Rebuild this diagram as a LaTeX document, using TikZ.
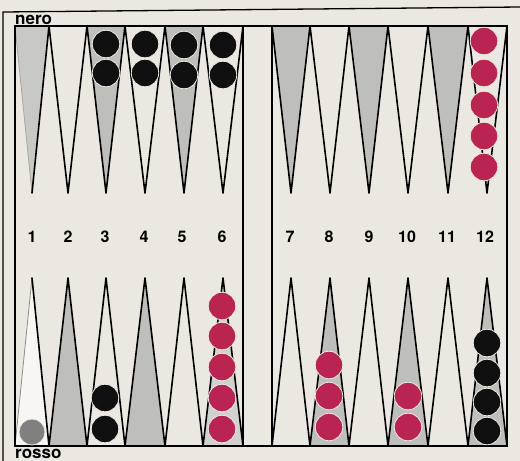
\documentclass[tikz,border=0pt]{standalone}
\usepackage{fontspec}
\setmainfont{TeX Gyre Heros}
\definecolor{paper}{RGB}{234,232,224}
\definecolor{pointgray}{RGB}{190,190,186}
\definecolor{lightpt}{RGB}{210,210,205}
\definecolor{fadedpt}{RGB}{200,200,196}
\definecolor{checkred}{RGB}{185,36,80}
\definecolor{checkblack}{RGB}{16,16,16}
\begin{document}
\begin{tikzpicture}[x=1pt,y=-1pt,
  edge/.style={draw=black,line width=1.6pt,line join=round,line cap=round},
  frameline/.style={draw=black,line width=1.3pt},
  num/.style={font=\fontsize{16}{16}\selectfont\bfseries,inner sep=0pt},
  lbl/.style={font=\fontsize{17}{17}\selectfont\bfseries,inner sep=0pt},
  redck/.style={circle,fill=checkred,draw=paper,line width=0.8pt,minimum size=27.5pt,inner sep=0pt},
  blackck/.style={circle,fill=checkblack,draw=paper,line width=0.8pt,minimum size=27.5pt,inner sep=0pt},
  greyck/.style={circle,fill=black!50,draw=paper,line width=0.8pt,minimum size=26pt,inner sep=0pt}]
\useasboundingbox (0,0) rectangle (520,461);
\fill[paper] (0,0) rectangle (520,461);
% outer frame
\draw[frameline] (3,461) -- (3,12) -- (520,7);
% top points (y base 26, tip 193)
\fill[fadedpt] (15,26) -- (32,193) -- (49,26) -- cycle;
\draw[black!35,line width=0.8pt] (15,26) -- (32,193);
\draw[edge] (32,193) -- (49,26);
\foreach \xl/\xt/\xr/\c in {49/68/87/paper,87/106/125/pointgray,125/145/165/paper,165/184/203/pointgray,203/223/243/paper,
  272/291/310/pointgray,310/330/349/paper,349/369/388/pointgray,388/408/428/paper,428/448/468/pointgray,468/487/507/paper}{
  \fill[\c] (\xl,26) -- (\xt,193) -- (\xr,26) -- cycle;
  \draw[edge] (\xl,26) -- (\xt,193) -- (\xr,26);
}
% bottom points (y base 446, tip 278)
\fill[white!60!paper] (15,446) -- (32,278) -- (49,446) -- cycle;
\draw[black!45,line width=0.8pt] (15,446) -- (32,278);
\draw[edge] (32,278) -- (49,446);
\foreach \xl/\xt/\xr/\c in {49/68/87/pointgray,87/106/125/paper,125/145/165/pointgray,165/184/203/paper,203/223/243/lightpt,
  272/291/310/paper,310/330/349/pointgray,349/369/388/paper,388/408/428/pointgray,428/448/468/paper,468/487/507/pointgray}{
  \fill[\c] (\xl,446) -- (\xt,278) -- (\xr,446) -- cycle;
  \draw[edge] (\xl,446) -- (\xt,278) -- (\xr,446);
}
% inner frame and bar
\draw[frameline] (15,26) rectangle (507,446);
\draw[frameline] (243,26) -- (243,446);
\draw[frameline] (272,26) -- (272,446);
% numbers
\foreach \x/\n in {32/1,68/2,105/3,144/4,182/5,222/6,290/7,329/8,369/9,407/10,447/11,485/12}{
  \node[num] (n\n) at (\x,237) {\n};
}
% black checkers, top
\foreach \x/\y [count=\i] in {106/44,106/73,145/44,145/73,184/45,184/75,223/45,223/75}{
  \node[blackck] (bt\i) at (\x,\y) {};
}
% red checkers, top point 12
\foreach \y [count=\i] in {41,73,105,136,167}{
  \node[redck] (rt\i) at (484,\y) {};
}
% red checkers, bottom point 6
\foreach \y [count=\i] in {306,336,367,398,429}{
  \node[redck] (rb\i) at (222,\y) {};
}
% red checkers, bottom points 8 and 10
\foreach \x/\y [count=\i] in {329/365,329/396,329/427,408/396,408/427}{
  \node[redck] (rc\i) at (\x,\y) {};
}
% black checkers, bottom
\foreach \x/\y [count=\i] in {105/398,105/429,487/343,487/373,487/402,487/431}{
  \node[blackck] (bb\i) at (\x,\y) {};
}
\node[greyck] (g1) at (32,432) {};
% labels
\node[lbl,anchor=base west] (nero) at (15,24.5) {nero};
\node[lbl,anchor=base west] (rosso) at (15,458) {rosso};
\end{tikzpicture}
\end{document}
